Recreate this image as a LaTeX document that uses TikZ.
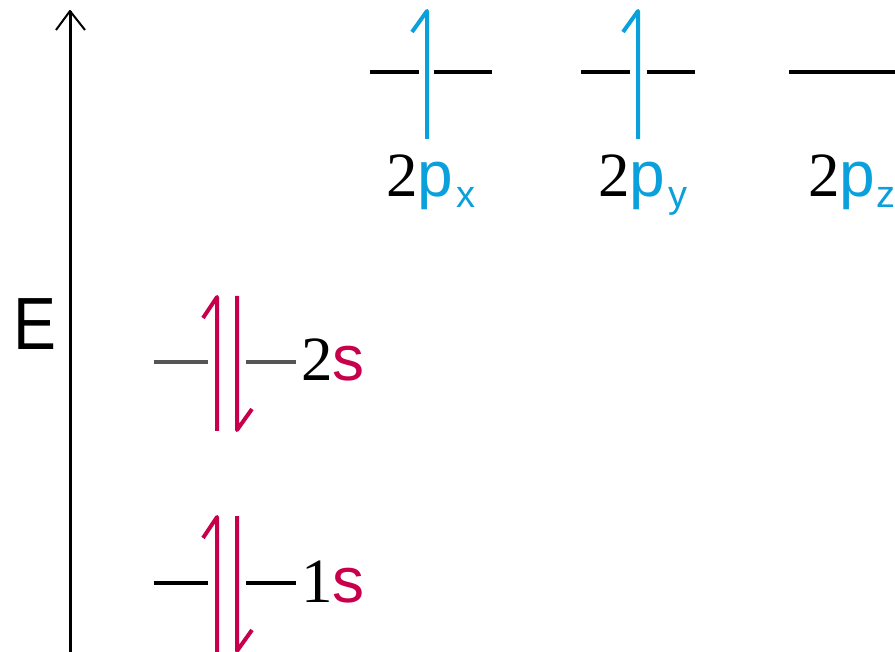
\documentclass[tikz,border=0pt]{standalone}
\usepackage{fontspec}
\setmainfont{Liberation Serif}
\newfontfamily\sansf{Liberation Sans}
\definecolor{spinred}{HTML}{C8004B}
\definecolor{spinblue}{HTML}{0AA0DC}
\definecolor{lvlgray}{HTML}{555555}
\newcommand{\dg}[1]{{\fontsize{63}{63}\selectfont #1}}
\newcommand{\orb}[1]{{\sansf\fontsize{64}{64}\selectfont #1}}
\newcommand{\sub}[1]{\raisebox{-11pt}{\sansf\fontsize{38}{38}\selectfont #1}}
\begin{document}
\begin{tikzpicture}[x=1pt,y=-1pt,
  lvl/.style={line width=4pt,line cap=butt},
  upspin/.style={line width=4pt,line cap=butt,line join=round},
  lbl/.style={anchor=base west,inner sep=0pt,outer sep=0pt},
  axisline/.style={line width=3pt,black}]
\useasboundingbox (0,0) rectangle (895,652);
% energy axis
\coordinate (axb) at (70,652);
\coordinate (axt) at (70,11);
\coordinate (axl) at (56,30);
\coordinate (axr) at (85,30);
\draw[axisline] (axb) -- (axt);
\draw[line width=2pt,line join=round] (axl) -- (axt) -- (axr);
\node[lbl] (E) at (13,350) {\sansf\fontsize{74}{74}\selectfont\scalebox{0.87}[1]{E}};
% 2s level
\coordinate (s2a) at (154,362); \coordinate (s2b) at (208,362);
\coordinate (s2c) at (246,362); \coordinate (s2d) at (296,362);
\draw[lvl,lvlgray] (s2a) -- (s2b);
\draw[lvl,lvlgray] (s2c) -- (s2d);
\coordinate (s2ub) at (203,318); \coordinate (s2ut) at (217,297); \coordinate (s2ue) at (217,431);
\draw[upspin,spinred] (s2ub) -- (s2ut) -- (s2ue);
\coordinate (s2dt) at (237,296); \coordinate (s2de) at (237,430); \coordinate (s2db) at (252,409);
\draw[upspin,spinred] (s2dt) -- (s2de) -- (s2db);
\node[lbl] (l2s) at (301,381) {\dg{2}\orb{\textcolor{spinred}{s}}};
% 1s level
\coordinate (s1a) at (154,583); \coordinate (s1b) at (208,583);
\coordinate (s1c) at (246,583); \coordinate (s1d) at (296,583);
\draw[lvl,black] (s1a) -- (s1b);
\draw[lvl,black] (s1c) -- (s1d);
\coordinate (s1ub) at (203,538); \coordinate (s1ut) at (217,517); \coordinate (s1ue) at (217,652);
\draw[upspin,spinred] (s1ub) -- (s1ut) -- (s1ue);
\coordinate (s1dt) at (237,516); \coordinate (s1de) at (237,651); \coordinate (s1db) at (252,630);
\draw[upspin,spinred] (s1dt) -- (s1de) -- (s1db);
\node[lbl] (l1s) at (301,602) {\dg{1}\orb{\textcolor{spinred}{s}}};
% 2px
\coordinate (pxa) at (370,72); \coordinate (pxb) at (419,72);
\coordinate (pxc) at (434,72); \coordinate (pxd) at (492,72);
\draw[lvl,black] (pxa) -- (pxb);
\draw[lvl,black] (pxc) -- (pxd);
\coordinate (pxub) at (412,32); \coordinate (pxut) at (427,11); \coordinate (pxue) at (427,139);
\draw[upspin,spinblue] (pxub) -- (pxut) -- (pxue);
\node[lbl] (lpx) at (386,197) {\dg{2}\orb{\textcolor{spinblue}{p}}\kern3pt\textcolor{spinblue}{\sub{x}}};
% 2py
\coordinate (pya) at (581,72); \coordinate (pyb) at (630,72);
\coordinate (pyc) at (647,72); \coordinate (pyd) at (695,72);
\draw[lvl,black] (pya) -- (pyb);
\draw[lvl,black] (pyc) -- (pyd);
\coordinate (pyub) at (623,32); \coordinate (pyut) at (638,11); \coordinate (pyue) at (638,139);
\draw[upspin,spinblue] (pyub) -- (pyut) -- (pyue);
\node[lbl] (lpy) at (598,197) {\dg{2}\orb{\textcolor{spinblue}{p}}\kern3pt\textcolor{spinblue}{\sub{y}}};
% 2pz
\coordinate (pza) at (789,72); \coordinate (pzb) at (895,72);
\draw[lvl,black] (pza) -- (pzb);
\node[lbl] (lpz) at (808,197) {\dg{2}\orb{\textcolor{spinblue}{p}}\kern1pt\textcolor{spinblue}{\sub{z}}};
\end{tikzpicture}
\end{document}
